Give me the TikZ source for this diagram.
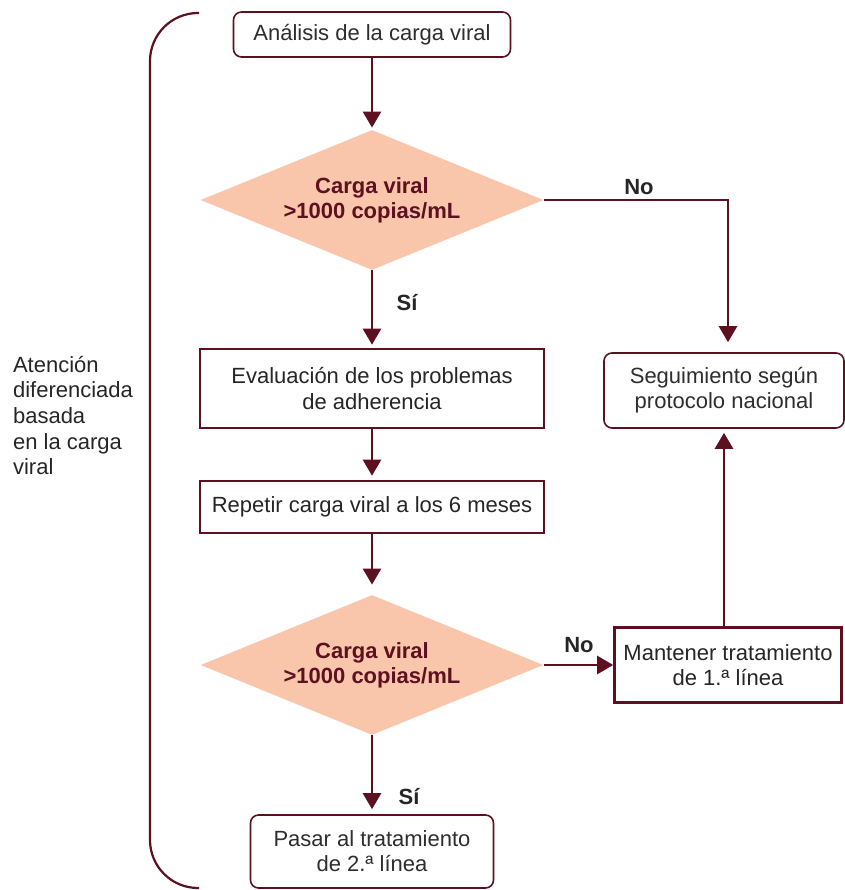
\documentclass[tikz,border=0pt]{standalone}
\usepackage{fontspec}
\setmainfont{Liberation Sans}
\usetikzlibrary{shapes.geometric,arrows.meta}

\definecolor{wine}{HTML}{5C1020}
\definecolor{peach}{HTML}{F9C6AC}
\definecolor{ink}{HTML}{2E2E2E}

\newcommand*{\boxfont}{\fontsize{11}{12.6}\selectfont}

\begin{document}
\begin{tikzpicture}
[
	x=0.5pt,y=-0.5pt,
	roundbox/.style={draw=wine,line width=0.8pt,rounded corners=4pt,fill=white,text=ink,align=center,font=\boxfont,inner sep=0pt},
	plainbox/.style={draw=wine,line width=1.3pt,fill=white,text=black!85,align=center,font=\boxfont,inner sep=0pt},
	decision/.style={diamond,fill=peach,text=wine,font=\boxfont\bfseries,align=center,inner sep=0pt,aspect=2.45,minimum width=171.5pt,minimum height=70pt},
	answer/.style={font=\boxfont\bfseries,text=black!85},
	flow/.style={-{Triangle[width=9pt,length=8pt]},wine,line width=1.3pt}
]

	\useasboundingbox (0,0) rectangle (845,890);

	% bracket and its label
	\draw[wine,line width=1.1pt,rounded corners=24pt] (199,13) -- (150,13) -- (150,888) -- (199,888);
	\node[anchor=north west,align=left,font=\fontsize{11}{12.8}\selectfont,text=black!85] (care) at (6,349)
		{Atención\\diferenciada\\basada\\en la carga\\viral};

	% nodes
	\node[roundbox,minimum width=138.5pt,minimum height=22.5pt] (analysis) at (372,34.5) {Análisis de la carga viral};
	\node[decision] (check1) at (372,200) {Carga viral\\>1000 copias/mL};
	\node[plainbox,minimum width=172pt,minimum height=39.5pt] (adherence) at (372,388.5) {Evaluación de los problemas\\de adherencia};
	\node[plainbox,minimum width=172pt,minimum height=26pt] (repeat) at (372,507) {Repetir carga viral a los 6 meses};
	\node[decision] (check2) at (372,665) {Carga viral\\>1000 copias/mL};
	\node[plainbox,minimum width=113.5pt,minimum height=37.5pt] (keep) at (728,665) {Mantener tratamiento\\de 1.ª línea};
	\node[roundbox,minimum width=120pt,minimum height=37.5pt] (follow) at (724,390.5) {Seguimiento según\\protocolo nacional};
	\node[roundbox,minimum width=121.5pt,minimum height=36.5pt] (switch) at (372,851.5) {Pasar al tratamiento\\de 2.ª línea};

	% answers
	\node[answer] (no1) at (639,187) {No};
	\node[answer] (yes1) at (407,303) {Sí};
	\node[answer] (no2) at (579,645) {No};
	\node[answer] (yes2) at (409,797) {Sí};

	% connectors
	\draw[flow,shorten >=1pt] (analysis) -- (check1);
	\draw[flow,shorten >=1.5pt] (check1) -- (adherence);
	\draw[flow,shorten >=2pt] (adherence) -- (repeat);
	\draw[flow,shorten >=5pt] (repeat) -- (check2);
	\draw[flow,shorten >=5pt] (check1.east) -| ([xshift=2pt]follow.north);
	\draw[flow] (check2.east) -- (keep.west);
	\draw[flow,shorten >=2pt] (keep.north -| follow.south) -- (follow.south);
	\draw[flow,shorten >=2.5pt] (check2) -- (switch);

\end{tikzpicture}
\end{document}
